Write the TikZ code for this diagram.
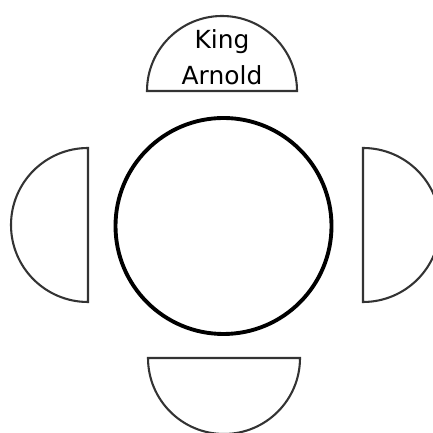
\documentclass[tikz,border=0pt]{standalone}
\usepackage{fontspec}
\setsansfont{DejaVu Sans}
\usepackage{tikz}
\begin{document}
\begin{tikzpicture}[x=0.254mm, y=0.254mm,
				stuhl/.style={draw=black!80, line width=1.5pt, fill=white},
				tisch/.style={draw=black, line width=2.8pt},
				font=\sffamily]
				%Bildbereich
				\useasboundingbox (0,0) rectangle (433,433);
				\clip (0,0) rectangle (433,433);
				% Tisch
				\draw[tisch] (223.5,207) circle (108);
				% Stuehle
				\draw[stuhl] (147,342) arc (180:0:75) -- cycle;
				\draw[stuhl] (88,285) arc (90:270:77) -- cycle;
				\draw[stuhl] (363,131) arc (-90:90:77) -- cycle;
				\draw[stuhl] (148,75) arc (180:360:76) -- cycle;
				%Beschriftung
				\node[align=center, inner sep=0pt, font=\sffamily\fontsize{18}{26}\selectfont] (koenig) at (222,376) {King\\Arnold};
			\end{tikzpicture}
\end{document}
